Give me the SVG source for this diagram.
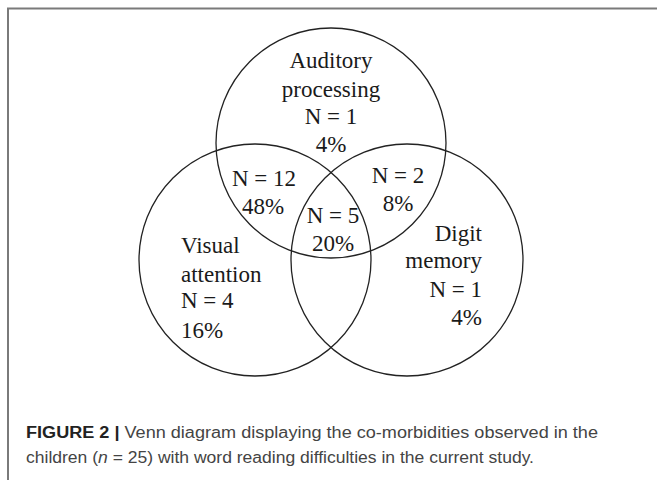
<svg xmlns="http://www.w3.org/2000/svg" width="657" height="480" viewBox="0 0 657 480">
<style>
.frame{fill:none;stroke:#7a7a7a;stroke-width:2}
.c{fill:none;stroke:#222;stroke-width:1.3}
.t{font-family:"Liberation Serif","Times New Roman",serif;font-size:23px;fill:#1a1a1a}
.m{text-anchor:middle}
.e{text-anchor:end}
.cap{font-family:"Liberation Sans",Arial,sans-serif;font-size:16px;fill:#444}
.b{font-weight:bold;fill:#222}
</style>
<rect width="657" height="480" fill="#fff"/>
<path class="frame" d="M8,480 V8.5 H657"/>
<g id="connectors"></g>
<g id="auditory">
<circle class="c" cx="331" cy="143" r="115"/>
<text class="t m" x="331" y="68">Auditory</text>
<text class="t m" x="331" y="97">processing</text>
<text class="t m" x="331" y="124">N = 1</text>
<text class="t m" x="331" y="152">4%</text>
</g>
<g id="visual">
<circle class="c" cx="255" cy="260" r="116"/>
<text class="t" x="181" y="253">Visual</text>
<text class="t" x="181" y="282">attention</text>
<text class="t" x="181" y="308">N = 4</text>
<text class="t" x="181" y="338">16%</text>
</g>
<g id="digit">
<circle class="c" cx="407" cy="260" r="116"/>
<text class="t e" x="482" y="241">Digit</text>
<text class="t e" x="482" y="268">memory</text>
<text class="t e" x="482" y="297">N = 1</text>
<text class="t e" x="482" y="325">4%</text>
</g>
<g id="auditory-visual">
<text class="t m" x="264" y="186">N = 12</text>
<text class="t m" x="263" y="214">48%</text>
</g>
<g id="auditory-digit">
<text class="t m" x="398" y="183">N = 2</text>
<text class="t m" x="398" y="211">8%</text>
</g>
<g id="all-three">
<text class="t m" x="333" y="223">N = 5</text>
<text class="t m" x="333" y="251">20%</text>
</g>
<g id="caption">
<text class="cap" x="26" y="438" textLength="572" lengthAdjust="spacingAndGlyphs"><tspan class="b">FIGURE 2 |</tspan> Venn diagram displaying the co-morbidities observed in the</text>
<text class="cap" x="26" y="463" textLength="508" lengthAdjust="spacingAndGlyphs">children (<tspan font-style="italic">n</tspan> = 25) with word reading difficulties in the current study.</text>
</g>
</svg>
